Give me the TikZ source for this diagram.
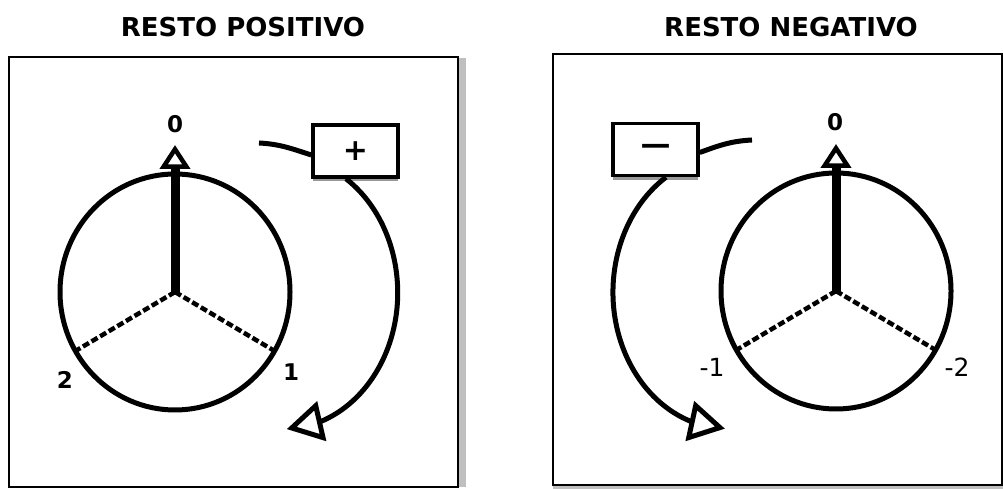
\documentclass[tikz,border=0pt]{standalone}
\usepackage{fontspec}
\setmainfont{DejaVu Sans}
\usetikzlibrary{arrows.meta, bending, positioning, shadows}

\begin{document}
\begin{tikzpicture}[x=1pt, y=1pt,
        panel/.style={draw=black, line width=1.3pt, fill=white},
        dial/.style={line width=5pt},
        spoke/.style={line width=4.5pt, dash pattern=on 7pt off 3pt},
        hand/.style={line width=9pt, -{Triangle[open, length=24pt, width=30pt, line width=4.5pt]}},
        turn/.style={line width=5pt, -{Triangle[open, flex, length=36pt, width=40pt, line width=5pt]}},
        signbox/.style={draw, line width=3.5pt, fill=white, minimum width=85pt, minimum height=52pt,
            font=\fontsize{30}{32}\selectfont\bfseries,
            drop shadow={shadow xshift=0pt, shadow yshift=-4.5pt, fill=black!40, opacity=1}},
        title/.style={font=\fontsize{26}{28}\selectfont\bfseries},
        poslabel/.style={font=\fontsize{23}{25}\selectfont\bfseries},
        neglabel/.style={font=\fontsize{25}{27}\selectfont}]
        \def\dialrx{115}
        \def\dialry{118}

        \useasboundingbox (0,0) rectangle (1003,489);

        % resto positivo
        \fill[black!25] (458,2) rectangle (466,431);
        \draw[panel] (9,2) rectangle (458,432);
        \node[title] (postitle) at (243,462) {RESTO POSITIVO};

        \coordinate (pc) at (175,197);
        \draw[dial] (pc) ellipse [x radius=\dialrx, y radius=\dialry];
        \draw[spoke] (pc) -- ++({\dialrx*cos(-150)},{\dialry*sin(-150)}) coordinate (p2);
        \draw[spoke] (pc) -- ++({\dialrx*cos(-30)},{\dialry*sin(-30)}) coordinate (p1);
        \draw[hand] (pc) -- (175,344) coordinate (p0);

        \node[poslabel] (pzero) at (175,365) {0};
        \node[poslabel] (pone) at (291,117) {1};
        \node[poslabel] (ptwo) at (65,109) {2};

        \node[signbox] (plus) at (355.5,338) {+};
        \coordinate (pstub) at (259,346);
        \draw[dial] (pstub) to[out=-3, in=162] ([yshift=-4pt]plus.west);
        \draw[turn] ([xshift=-9.5pt]plus.south) arc[start angle=56.6, end angle=-88, x radius=115, y radius=136.5] coordinate (ptip);

        % resto negativo
        \fill[black!25] (553,0) rectangle (1003,4);
        \draw[panel] (553,4) rectangle (1002,435);
        \node[title] (negtitle) at (791,462) {RESTO NEGATIVO};

        \coordinate (nc) at (836,198);
        \draw[dial] (nc) ellipse [x radius=\dialrx, y radius=\dialry];
        \draw[spoke] (nc) -- ++({\dialrx*cos(-150)},{\dialry*sin(-150)}) coordinate (n1);
        \draw[spoke] (nc) -- ++({\dialrx*cos(-30)},{\dialry*sin(-30)}) coordinate (n2);
        \draw[hand] (nc) -- (836,345) coordinate (n0);

        \node[poslabel] (nzero) at (835,367) {0};
        \node[neglabel] (none) at (712,122) {-1};
        \node[neglabel] (ntwo) at (957,122) {-2};

        \node[signbox] (minus) at (655.5,339.5) {—};
        \coordinate (nstub) at (752,349);
        \draw[dial] (nstub) to[out=183, in=20] ([yshift=-3pt]minus.east);
        \draw[turn] ([xshift=10.5pt]minus.south) arc[start angle=122.6, end angle=268.5, x radius=115, y radius=136.5] coordinate (ntip);
\end{tikzpicture}
\end{document}
